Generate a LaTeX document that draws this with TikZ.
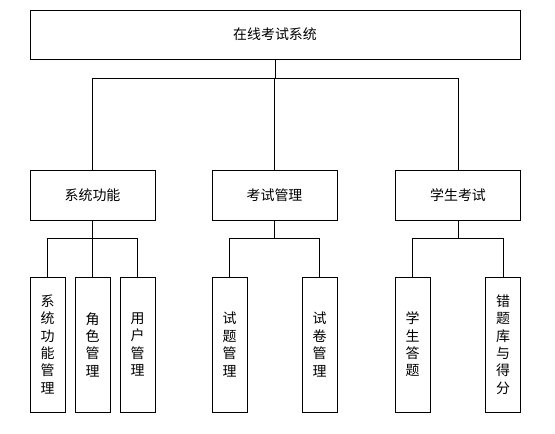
\documentclass[tikz,border=0pt]{standalone}
\usepackage{fontspec}
\setmainfont{Noto Sans CJK SC}
\begin{document}
\begin{tikzpicture}[x=1bp,y=-1bp,
  box/.style={draw,line width=0.9bp,inner sep=0pt,font=\fontsize{14}{17.4}\selectfont},
  topbox/.style={box,minimum width=490bp,minimum height=49bp},
  midbox/.style={box,minimum width=125bp,minimum height=50bp},
  leafbox/.style={box,minimum width=35bp,minimum height=135bp,align=center},
  link/.style={line width=0.9bp}]
\useasboundingbox (0,0) rectangle (555,434);
\node[topbox] (root) at (275,34.5) {在线考试系统};
\node[midbox] (m1) at (92.5,195) {系统功能};
\node[midbox] (m2) at (274.5,195) {考试管理};
\node[midbox] (m3) at (458,195) {学生考试};
\node[leafbox] (l1) at (47.5,344.5) {系\\统\\功\\能\\管\\理};
\node[leafbox] (l2) at (92.5,344.5) {角\\色\\管\\理};
\node[leafbox] (l3) at (137.5,344.5) {用\\户\\管\\理};
\node[leafbox] (l4) at (229.5,344.5) {试\\题\\管\\理};
\node[leafbox] (l5) at (319.5,344.5) {试\\卷\\管\\理};
\node[leafbox] (l6) at (412.5,344.5) {学\\生\\答\\题};
\node[leafbox] (l7) at (503,344.5) {错\\题\\库\\与\\得\\分};
\foreach \c in {m1,m2,m3} \draw[link] (root.south) -- ++(0,19) -| (\c.north);
\foreach \c in {l1,l2,l3} \draw[link] (m1.south) -- ++(0,18) -| (\c.north);
\foreach \c in {l4,l5} \draw[link] (m2.south) -- ++(0,18) -| (\c.north);
\foreach \c in {l6,l7} \draw[link] (m3.south) -- ++(0,18) -| (\c.north);
\end{tikzpicture}
\end{document}
